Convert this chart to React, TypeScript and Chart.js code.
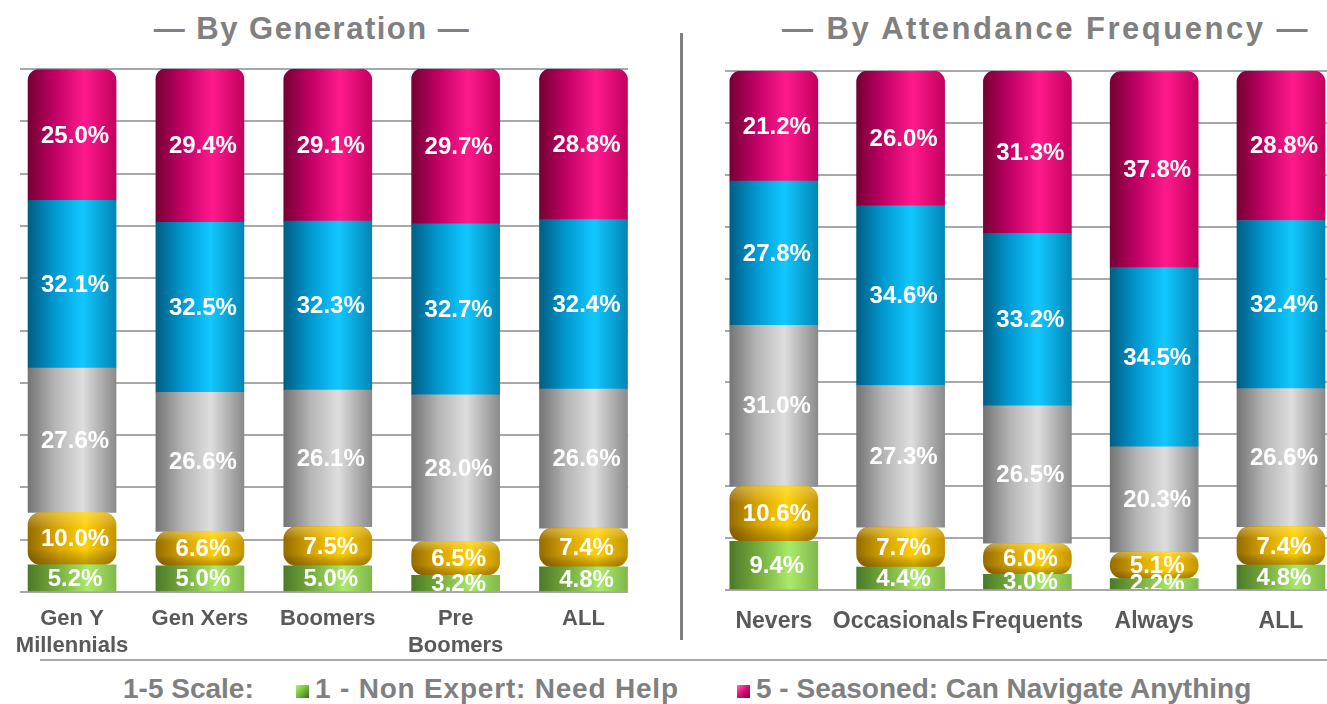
import React, { useEffect, useRef } from 'react';
import { Chart, registerables } from 'chart.js';

Chart.register(...registerables);

// ---------- DATA ----------
const GEN_CATEGORIES: (string | string[])[] = [['Gen Y', 'Millennials'], 'Gen Xers', 'Boomers', ['Pre', 'Boomers'], 'ALL'];
const GEN_LEVEL1 = [5.2, 5.0, 5.0, 3.2, 4.8];
const GEN_LEVEL2 = [10.0, 6.6, 7.5, 6.5, 7.4];
const GEN_LEVEL3 = [27.6, 26.6, 26.1, 28.0, 26.6];
const GEN_LEVEL4 = [32.1, 32.5, 32.3, 32.7, 32.4];
const GEN_LEVEL5 = [25.0, 29.4, 29.1, 29.7, 28.8];

const ATT_CATEGORIES: (string | string[])[] = ['Nevers', 'Occasionals', 'Frequents', 'Always', 'ALL'];
const ATT_LEVEL1 = [9.4, 4.4, 3.0, 2.2, 4.8];
const ATT_LEVEL2 = [10.6, 7.7, 6.0, 5.1, 7.4];
const ATT_LEVEL3 = [31.0, 27.3, 26.5, 20.3, 26.6];
const ATT_LEVEL4 = [27.8, 34.6, 33.2, 34.5, 32.4];
const ATT_LEVEL5 = [21.2, 26.0, 31.3, 37.8, 28.8];

const SERIES_NAMES = ['1 - Non Expert: Need Help', '2', '3', '4', '5 - Seasoned: Can Navigate Anything'];
const Y_MIN = 0;
const Y_MAX = 100;
const Y_STEP = 10;

// ---------- STYLE ----------
const FONT = '"Liberation Sans", Arial, sans-serif';
const BAR_W = 88;
const GRADIENTS: [number, string][][] = [
  [[0, '#4c7a28'], [0.3, '#72a83c'], [0.68, '#aaea6a'], [1, '#80b84a']],
  [[0, '#956c00'], [0.3, '#d4a200'], [0.65, '#ffd000'], [1, '#c49400']],
  [[0, '#747474'], [0.3, '#b4b4b4'], [0.62, '#dedede'], [1, '#8a8a8a']],
  [[0, '#005e84'], [0.3, '#0098d0'], [0.62, '#12c8ff'], [1, '#0086b6']],
  [[0, '#760034'], [0.3, '#c00064'], [0.64, '#ff1a8c'], [1, '#c2005e']],
];
const GOLD_R = 13;
const RADII: any[] = [
  0,
  { topLeft: GOLD_R, topRight: GOLD_R, bottomLeft: GOLD_R, bottomRight: GOLD_R },
  0,
  0,
  { topLeft: 11, topRight: 11, bottomLeft: 0, bottomRight: 0 },
];

function makeGradient(ctx: any, idx: number) {
  const chart = ctx.chart;
  const xs = chart.scales && chart.scales.x;
  const stops = GRADIENTS[idx];
  const fallback = stops[2][1];
  if (!xs || ctx.type !== 'data') return fallback;
  const cx = xs.getPixelForValue(ctx.dataIndex);
  if (!Number.isFinite(cx)) return fallback;
  const g = chart.ctx.createLinearGradient(cx - BAR_W / 2, 0, cx + BAR_W / 2, 0);
  stops.forEach(([o, c]) => g.addColorStop(o, c));
  return g;
}

// vertical shading on the gold "donut" segments
const donutPlugin = {
  id: 'donutShade',
  afterDatasetDraw(chart: any, args: any) {
    if (args.index !== 1) return;
    const c = chart.ctx;
    args.meta.data.forEach((el: any) => {
      const top = Math.min(el.y, el.base);
      const bot = Math.max(el.y, el.base);
      const h = bot - top;
      const l = el.x - el.width / 2;
      const r = Math.min(GOLD_R, h / 2);
      const g = c.createLinearGradient(0, top, 0, bot);
      g.addColorStop(0, 'rgba(255,240,160,0.35)');
      g.addColorStop(0.3, 'rgba(255,255,255,0)');
      g.addColorStop(0.7, 'rgba(0,0,0,0)');
      g.addColorStop(1, 'rgba(70,40,0,0.35)');
      c.save();
      c.beginPath();
      if (c.roundRect) c.roundRect(l, top, el.width, h, r);
      else c.rect(l, top, el.width, h);
      c.fillStyle = g;
      c.fill();
      c.restore();
    });
  },
};

const labelPlugin = {
  id: 'segLabels',
  afterDatasetsDraw(chart: any) {
    const c = chart.ctx;
    const a = chart.chartArea;
    c.save();
    c.beginPath();
    c.rect(a.left, a.top - 2, a.right - a.left, a.bottom - a.top + 1);
    c.clip();
    c.font = `bold 24px ${FONT}`;
    c.fillStyle = '#ffffff';
    c.textAlign = 'center';
    c.textBaseline = 'middle';
    chart.data.datasets.forEach((ds: any, di: number) => {
      const meta = chart.getDatasetMeta(di);
      meta.data.forEach((el: any, i: number) => {
        const v = ds.data[i].y;
        const y = (el.y + el.base) / 2;
        c.fillText(v.toFixed(1) + '%', el.x + 3, y + 1);
      });
    });
    c.restore();
  },
};

type PanelProps = {
  categories: (string | string[])[];
  series: number[][];
  width: number;
  height: number;
  padLeft: number;
  padRight: number;
  padTop: number;
  axisHeight: number;
  xMin: number;
  xMax: number;
  labelPad: number;
  labelSize: number;
};

function Panel(p: PanelProps) {
  const ref = useRef<HTMLCanvasElement>(null);
  useEffect(() => {
    if (!ref.current) return;
    const chart = new Chart(ref.current, {
      type: 'bar',
      data: {
        datasets: p.series.map((vals, si) => ({
          label: SERIES_NAMES[si],
          data: vals.map((v, i) => ({ x: i, y: v })),
          backgroundColor: (ctx: any) => makeGradient(ctx, si),
          borderWidth: 0,
          borderRadius: RADII[si],
          borderSkipped: false,
          barThickness: BAR_W,
        })),
      },
      options: {
        animation: false,
        responsive: false,
        devicePixelRatio: 1,
        layout: { padding: { left: p.padLeft, right: p.padRight, top: p.padTop, bottom: 0 } },
        plugins: { legend: { display: false }, tooltip: { enabled: false }, title: { display: false } },
        scales: {
          x: {
            type: 'linear',
            stacked: true,
            offset: false,
            min: p.xMin,
            max: p.xMax,
            grid: { display: false, offset: false },
            border: { display: false },
            afterBuildTicks: (s: any) => {
              s.ticks = p.categories.map((_, i) => ({ value: i }));
            },
            afterFit: (s: any) => {
              s.height = p.axisHeight;
            },
            ticks: {
              autoSkip: false,
              maxRotation: 0,
              minRotation: 0,
              padding: p.labelPad,
              color: '#595959',
              font: { family: FONT, size: p.labelSize, weight: 'bold', lineHeight: 1.25 },
              callback: (v: any) => p.categories[Math.round(v)] as any,
            },
          },
          y: {
            stacked: true,
            min: Y_MIN,
            max: Y_MAX,
            ticks: { display: false, stepSize: Y_STEP },
            grid: { color: '#a8a8a8', lineWidth: 2, drawTicks: false },
            border: { display: false },
            afterFit: (s: any) => {
              s.width = 0;
            },
          },
        },
      } as any,
      plugins: [donutPlugin, labelPlugin],
    });
    return () => chart.destroy();
  }, []);
  return <canvas ref={ref} width={p.width} height={p.height} style={{ width: p.width, height: p.height, display: 'block' }} />;
}

const titleStyle: React.CSSProperties = {
  position: 'absolute',
  top: 10,
  width: 600,
  textAlign: 'center',
  font: `bold 31px ${FONT}`,
  lineHeight: '38px',
  letterSpacing: '1.5px',
  color: '#808080',
  whiteSpace: 'nowrap',
};

const legendText: React.CSSProperties = {
  position: 'absolute',
  top: 672,
  font: `bold 28px ${FONT}`,
  lineHeight: '34px',
  color: '#808080',
  whiteSpace: 'nowrap',
};

export default function App() {
  return (
    <div style={{ position: 'absolute', left: 0, top: 0, width: 1327, height: 704, background: '#ffffff', overflow: 'hidden', fontFamily: FONT }}>
      <div style={{ ...titleStyle, left: 312 - 300 }}>— By Generation —</div>
      <div style={{ ...titleStyle, left: 1046 - 300, letterSpacing: '2.5px' }}>— By Attendance Frequency —</div>
      <div style={{ position: 'absolute', left: 0, top: 0 }}>
        <Panel
          categories={GEN_CATEGORIES}
          series={[GEN_LEVEL1, GEN_LEVEL2, GEN_LEVEL3, GEN_LEVEL4, GEN_LEVEL5]}
          width={680}
          height={660}
          padLeft={20}
          padRight={52}
          padTop={69}
          axisHeight={68}
          xMin={-0.407}
          xMax={4.348}
          labelPad={5}
          labelSize={22}
        />
      </div>
      <div style={{ position: 'absolute', left: 680, top: 0 }}>
        <Panel
          categories={ATT_CATEGORIES}
          series={[ATT_LEVEL1, ATT_LEVEL2, ATT_LEVEL3, ATT_LEVEL4, ATT_LEVEL5]}
          width={647}
          height={660}
          padLeft={45}
          padRight={0}
          padTop={71}
          axisHeight={70}
          xMin={-0.385}
          xMax={4.363}
          labelPad={9}
          labelSize={23}
        />
      </div>
      <div style={{ position: 'absolute', left: 680, top: 33, width: 3, height: 607, background: '#808080' }} />
      <div style={{ position: 'absolute', left: 40, top: 659, width: 1287, height: 2, background: '#a8a8a8' }} />
      <div style={{ ...legendText, left: 123 }}>1-5 Scale:</div>
      <div style={{ position: 'absolute', left: 296, top: 685, width: 13, height: 13, background: 'linear-gradient(135deg, #b8f070 0%, #7cc040 45%, #3e6e20 100%)' }} />
      <div style={{ ...legendText, left: 315, letterSpacing: '0.8px' }}>1 - Non Expert: Need Help</div>
      <div style={{ position: 'absolute', left: 737, top: 685, width: 13, height: 13, background: 'linear-gradient(135deg, #ff70b8 0%, #e0107a 45%, #800040 100%)' }} />
      <div style={{ ...legendText, left: 756 }}>5 - Seasoned: Can Navigate Anything</div>
    </div>
  );
}
